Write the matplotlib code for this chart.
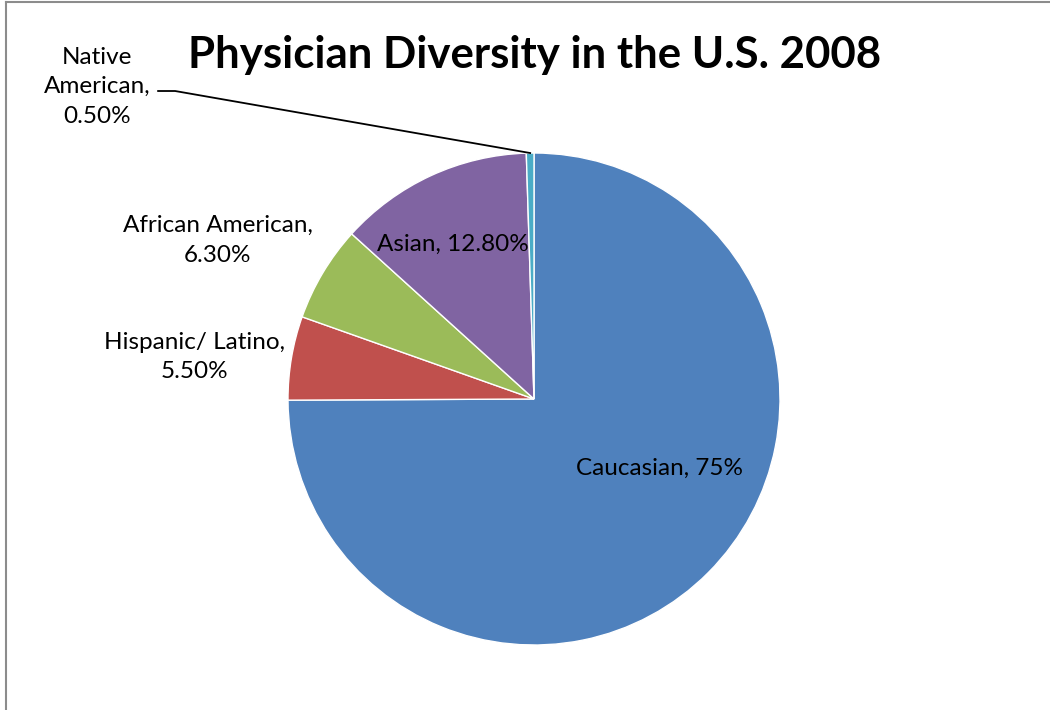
import matplotlib.pyplot as plt
from matplotlib.lines import Line2D
import numpy as np

plt.rcParams['font.family'] = ['Lato', 'DejaVu Sans']

# data
groups = ['Caucasian', 'Hispanic/ Latino', 'African American', 'Asian', 'Native American']
shares = [75.0, 5.5, 6.3, 12.8, 0.5]
label_text = ['Caucasian, 75%', 'Hispanic/ Latino,\n5.50%', 'African American,\n6.30%',
              'Asian, 12.80%', 'Native\nAmerican,\n0.50%']
colors = ['#4F81BD', '#C0504D', '#9BBB59', '#8064A2', '#4BACC6']

# label positions (axes data units, pie radius = 1)
label_pos = [(0.51, -0.28), (-1.38, 0.17), (-1.285, 0.645), (-0.33, 0.63), (-1.775, 1.27)]

fig = plt.figure(figsize=(10.5, 7.1), dpi=100)
W, H = 1050, 710
cx, cy, r = 534, 399, 246
ax = fig.add_axes([(cx - r) / W, (H - cy - r) / H, 2 * r / W, 2 * r / H])

wedges, _ = ax.pie(shares, colors=colors, startangle=90, counterclock=False,
                   radius=1, wedgeprops=dict(edgecolor='white', linewidth=1))
ax.set_xlim(-1, 1)
ax.set_ylim(-1, 1)
ax.set_aspect('equal')
ax.axis('off')

for txt, (x, y) in zip(label_text, label_pos):
    ax.text(x, y, txt, ha='center', va='center', fontsize=17.5, color='black',
            linespacing=1.5, clip_on=False)

# leader line for the Native American slice
w = wedges[-1]
mid = np.deg2rad((w.theta1 + w.theta2) / 2)
ex, ey = np.cos(mid), np.sin(mid)
ax.plot([-1.528, -1.459, ex], [1.252, 1.252, ey], color='black',
        linewidth=1.3, clip_on=False)

fig.text(535 / W, 1 - 55 / H, 'Physician Diversity in the U.S. 2008', ha='center',
         va='center', fontsize=31.5, fontweight='bold')

# chart area border (left and top edges visible)
fig.add_artist(Line2D([6 / W, 6 / W], [0, 1 - 2 / H], color='#8c8c8c', linewidth=1.5))
fig.add_artist(Line2D([6 / W, 1], [1 - 2 / H, 1 - 2 / H], color='#8c8c8c', linewidth=1.5))

plt.savefig('out.png', dpi=100)
